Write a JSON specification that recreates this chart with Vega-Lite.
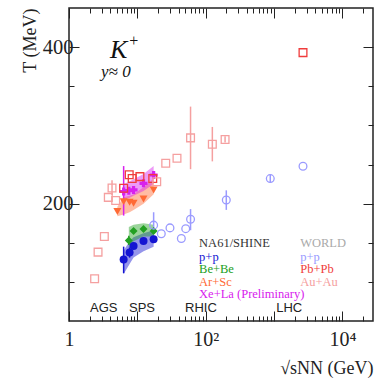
{
  "$schema": "https://vega.github.io/schema/vega-lite/v6.json",
  "width": 304,
  "height": 313,
  "autosize": {"type": "none"},
  "padding": {"left": 69, "top": 8, "right": 1, "bottom": 57},
  "background": "white",
  "config": {"view": {"stroke": "#222222", "strokeWidth": 1.5}},
  "datasets": {
    "points": [
      {"series": "NA61 p+p", "x": 6.3, "T": 128.5},
      {"series": "NA61 p+p", "x": 7.7, "T": 137.5},
      {"series": "NA61 p+p", "x": 8.8, "T": 146},
      {"series": "NA61 p+p", "x": 12.3, "T": 152.3},
      {"series": "NA61 p+p", "x": 17.3, "T": 154.5},
      {"series": "Be+Be", "x": 7.5, "T": 153},
      {"series": "Be+Be", "x": 8.8, "T": 165},
      {"series": "Be+Be", "x": 12.3, "T": 167.7},
      {"series": "Be+Be", "x": 17.3, "T": 165},
      {"series": "Ar+Sc", "x": 5.1, "T": 190},
      {"series": "Ar+Sc", "x": 6.3, "T": 202.6},
      {"series": "Ar+Sc", "x": 7.7, "T": 201.7},
      {"series": "Ar+Sc", "x": 8.8, "T": 200.4},
      {"series": "Ar+Sc", "x": 12.3, "T": 206},
      {"series": "Ar+Sc", "x": 17.3, "T": 217.4},
      {"series": "Xe+La", "x": 6.3, "T": 215.5},
      {"series": "Xe+La", "x": 7.5, "T": 216.5},
      {"series": "Xe+La", "x": 8.8, "T": 217.5},
      {"series": "Xe+La", "x": 12.3, "T": 226},
      {"series": "Xe+La", "x": 17.3, "T": 236.6},
      {"series": "World p+p", "x": 17.3, "T": 172.5},
      {"series": "World p+p", "x": 22.4, "T": 161.5},
      {"series": "World p+p", "x": 30, "T": 169},
      {"series": "World p+p", "x": 44, "T": 155.5},
      {"series": "World p+p", "x": 51, "T": 168},
      {"series": "World p+p", "x": 60, "T": 180},
      {"series": "World p+p", "x": 200, "T": 204.7},
      {"series": "World p+p", "x": 880, "T": 232},
      {"series": "World p+p", "x": 2650, "T": 247.7},
      {"series": "Pb+Pb", "x": 6.3, "T": 219.6},
      {"series": "Pb+Pb", "x": 7.6, "T": 237},
      {"series": "Pb+Pb", "x": 8.4, "T": 232},
      {"series": "Pb+Pb", "x": 10.9, "T": 234.5},
      {"series": "Pb+Pb", "x": 16.8, "T": 232},
      {"series": "Pb+Pb", "x": 2650, "T": 393},
      {"series": "Au+Au", "x": 2.37, "T": 104},
      {"series": "Au+Au", "x": 2.66, "T": 138},
      {"series": "Au+Au", "x": 3.29, "T": 158},
      {"series": "Au+Au", "x": 3.76, "T": 208},
      {"series": "Au+Au", "x": 4.26, "T": 220},
      {"series": "Au+Au", "x": 4.82, "T": 204},
      {"series": "Au+Au", "x": 19.2, "T": 228},
      {"series": "Au+Au", "x": 26, "T": 251.5},
      {"series": "Au+Au", "x": 38, "T": 258},
      {"series": "Au+Au", "x": 60, "T": 284},
      {"series": "Au+Au", "x": 125, "T": 276},
      {"series": "Au+Au", "x": 192, "T": 282}
    ],
    "errs": [
      {"series": "NA61 p+p", "x": 6.3, "lo": 111, "hi": 145},
      {"series": "NA61 p+p", "x": 7.7, "lo": 131, "hi": 144},
      {"series": "NA61 p+p", "x": 17.3, "lo": 150, "hi": 159},
      {"series": "Be+Be", "x": 7.5, "lo": 147, "hi": 159},
      {"series": "Xe+La", "x": 6.3, "lo": 184.7, "hi": 248},
      {"series": "World p+p", "x": 17.3, "lo": 166, "hi": 189},
      {"series": "World p+p", "x": 60, "lo": 166, "hi": 193},
      {"series": "World p+p", "x": 200, "lo": 192, "hi": 217},
      {"series": "World p+p", "x": 880, "lo": 227, "hi": 237},
      {"series": "Au+Au", "x": 4.26, "lo": 211, "hi": 230},
      {"series": "Au+Au", "x": 60, "lo": 244, "hi": 324},
      {"series": "Au+Au", "x": 125, "lo": 254, "hi": 298},
      {"series": "Au+Au", "x": 192, "lo": 278, "hi": 286}
    ],
    "bands": [
      {"series": "NA61 p+p", "x": 6.3, "lo": 110, "hi": 140},
      {"series": "NA61 p+p", "x": 7.7, "lo": 123, "hi": 152},
      {"series": "NA61 p+p", "x": 8.8, "lo": 131, "hi": 157},
      {"series": "NA61 p+p", "x": 12.3, "lo": 139, "hi": 162},
      {"series": "NA61 p+p", "x": 17.3, "lo": 145, "hi": 166},
      {"series": "Be+Be", "x": 7.5, "lo": 143, "hi": 170},
      {"series": "Be+Be", "x": 8.8, "lo": 152, "hi": 173},
      {"series": "Be+Be", "x": 12.3, "lo": 158, "hi": 175},
      {"series": "Be+Be", "x": 17.3, "lo": 158, "hi": 173},
      {"series": "Ar+Sc", "x": 5.1, "lo": 184, "hi": 196},
      {"series": "Ar+Sc", "x": 6.3, "lo": 186, "hi": 208},
      {"series": "Ar+Sc", "x": 7.7, "lo": 189, "hi": 210},
      {"series": "Ar+Sc", "x": 8.8, "lo": 192, "hi": 212},
      {"series": "Ar+Sc", "x": 12.3, "lo": 200, "hi": 221},
      {"series": "Ar+Sc", "x": 17.3, "lo": 212, "hi": 232},
      {"series": "Xe+La", "x": 6.3, "lo": 205, "hi": 225},
      {"series": "Xe+La", "x": 7.5, "lo": 207, "hi": 228},
      {"series": "Xe+La", "x": 8.8, "lo": 210, "hi": 231},
      {"series": "Xe+La", "x": 12.3, "lo": 216, "hi": 238},
      {"series": "Xe+La", "x": 17.3, "lo": 225, "hi": 248}
    ],
    "labels": [
      {"series": "hdr NA61", "label": "NA61/SHINE", "x": 80, "y": 149.6},
      {"series": "NA61 p+p", "label": "p+p", "x": 80, "y": 132.4},
      {"series": "Be+Be", "label": "Be+Be", "x": 80, "y": 116},
      {"series": "Ar+Sc", "label": "Ar+Sc", "x": 80, "y": 100},
      {"series": "Xe+La", "label": "Xe+La (Preliminary)", "x": 80, "y": 84},
      {"series": "hdr World", "label": "WORLD", "x": 2410, "y": 149.6},
      {"series": "World p+p", "label": "p+p", "x": 2410, "y": 132.4},
      {"series": "Pb+Pb", "label": "Pb+Pb", "x": 2410, "y": 116},
      {"series": "Au+Au", "label": "Au+Au", "x": 2410, "y": 100}
    ],
    "exps": [
      {"label": "AGS", "x": 2.03, "y": 66.5},
      {"label": "SPS", "x": 7.55, "y": 66.5},
      {"label": "RHIC", "x": 49.9, "y": 66.5},
      {"label": "LHC", "x": 1075, "y": 66.5}
    ],
    "kaon": [{"label": "K", "x": 3.98, "y": 396}],
    "plus": [{"label": "+", "x": 7.6, "y": 408}],
    "rap": [{"label": "y≈ 0", "x": 2.94, "y": 368}]
  },
  "layer": [
    {
      "data": {"name": "bands"},
      "mark": {"type": "area", "opacity": 0.45},
      "encoding": {
        "x": {
          "field": "x", "type": "quantitative",
          "scale": {"type": "log", "domain": [1, 28000], "nice": false},
          "axis": {
            "orient": "bottom",
            "values": [1,2,3,4,5,6,7,8,9,10,20,30,40,50,60,70,80,90,100,200,300,400,500,600,700,800,900,1000,2000,3000,4000,5000,6000,7000,8000,9000,10000,20000],
            "labelExpr": "datum.value == 1 ? '1' : datum.value == 100 ? '10²' : datum.value == 10000 ? '10⁴' : ''",
            "domain": false,
            "grid": false,
            "tickColor": "#222222",
            "tickWidth": 1,
            "tickSize": {"condition": {"test": "datum.value == 1 || datum.value == 10 || datum.value == 100 || datum.value == 1000 || datum.value == 10000", "value": -10}, "value": -5},
            "labelFont": "Liberation Serif",
            "labelFontSize": 20,
            "labelColor": "#222222",
            "labelPadding": 18,
            "labelFlush": false,
            "labelOverlap": false,
            "title": "√sNN (GeV)",
            "titleFont": "Liberation Serif",
            "titleFontSize": 18,
            "titleFontWeight": "normal",
            "titleColor": "#222222",
            "titleAnchor": "end",
            "titlePadding": 5
          }
        },
        "y": {
          "field": "lo", "type": "quantitative",
          "scale": {"domain": [50, 450], "nice": false, "zero": false},
          "axis": {
            "orient": "left",
            "values": [100,150,200,250,300,350,400],
            "labelExpr": "datum.value == 200 || datum.value == 400 ? datum.label : ''",
            "domain": false,
            "grid": false,
            "tickColor": "#222222",
            "tickWidth": 1,
            "tickSize": {"condition": {"test": "datum.value == 200 || datum.value == 400", "value": -10}, "value": -5},
            "labelFont": "Liberation Serif",
            "labelFontSize": 20.5,
            "labelColor": "#222222",
            "labelPadding": 6,
            "title": "T (MeV)",
            "titleFont": "Liberation Serif",
            "titleFontSize": 18,
            "titleFontWeight": "normal",
            "titleColor": "#222222",
            "titleAnchor": "end",
            "titlePadding": 3
          }
        },
        "y2": {"field": "hi"},
        "color": {"field": "series", "type": "nominal", "legend": null,
          "scale": {
            "domain": ["NA61 p+p","Be+Be","Ar+Sc","Xe+La","World p+p","Pb+Pb","Au+Au","hdr NA61","hdr World"],
            "range": ["#1414d2","#22a022","#ff6a35","#d820ee","#9a9aff","#f03c3c","#f5a0a0","#333333","#aaaaaa"]
          }
        },
        "detail": {"field": "series"}
      }
    },
    {
      "data": {"name": "errs"},
      "mark": {"type": "rule", "strokeWidth": 1.5},
      "encoding": {
        "x": {"field": "x", "type": "quantitative", "axis": null},
        "y": {"field": "lo", "type": "quantitative", "axis": null},
        "y2": {"field": "hi"},
        "color": {"field": "series", "type": "nominal", "legend": null}
      }
    },
    {
      "data": {"name": "points"},
      "transform": [{"filter": "indexof(['NA61 p+p','Be+Be','Ar+Sc','Xe+La'], datum.series) >= 0"}],
      "mark": {"type": "point", "filled": true, "opacity": 1, "size": 64},
      "encoding": {
        "x": {"field": "x", "type": "quantitative", "axis": null},
        "y": {"field": "T", "type": "quantitative", "axis": null},
        "color": {"field": "series", "type": "nominal", "legend": null},
        "shape": {"field": "series", "type": "nominal", "legend": null,
          "scale": {
            "domain": ["NA61 p+p","Be+Be","Ar+Sc","Xe+La","World p+p","Pb+Pb","Au+Au"],
            "range": ["circle","diamond","triangle-down","cross","circle","square","square"]
          }
        }
      }
    },
    {
      "data": {"name": "points"},
      "transform": [{"filter": "indexof(['World p+p','Pb+Pb','Au+Au'], datum.series) >= 0"}],
      "mark": {"type": "point", "filled": false, "opacity": 1, "size": 60, "strokeWidth": 1.3},
      "encoding": {
        "x": {"field": "x", "type": "quantitative", "axis": null},
        "y": {"field": "T", "type": "quantitative", "axis": null},
        "color": {"field": "series", "type": "nominal", "legend": null},
        "shape": {"field": "series", "type": "nominal", "legend": null}
      }
    },
    {
      "data": {"name": "labels"},
      "mark": {"type": "text", "align": "left", "baseline": "middle", "font": "Liberation Serif", "fontSize": 12.5},
      "encoding": {
        "x": {"field": "x", "type": "quantitative", "axis": null},
        "y": {"field": "y", "type": "quantitative", "axis": null},
        "text": {"field": "label"},
        "color": {"field": "series", "type": "nominal", "legend": null}
      }
    },
    {
      "data": {"name": "kaon"},
      "mark": {"type": "text", "align": "left", "baseline": "middle", "font": "Liberation Serif", "fontSize": 26, "fontStyle": "italic", "color": "#111111"},
      "encoding": {
        "x": {"field": "x", "type": "quantitative", "axis": null},
        "y": {"field": "y", "type": "quantitative", "axis": null},
        "text": {"field": "label"}
      }
    },
    {
      "data": {"name": "plus"},
      "mark": {"type": "text", "align": "left", "baseline": "middle", "font": "Liberation Serif", "fontSize": 16, "color": "#111111"},
      "encoding": {
        "x": {"field": "x", "type": "quantitative", "axis": null},
        "y": {"field": "y", "type": "quantitative", "axis": null},
        "text": {"field": "label"}
      }
    },
    {
      "data": {"name": "rap"},
      "mark": {"type": "text", "align": "left", "baseline": "middle", "font": "Liberation Serif", "fontSize": 17, "fontStyle": "italic", "color": "#111111"},
      "encoding": {
        "x": {"field": "x", "type": "quantitative", "axis": null},
        "y": {"field": "y", "type": "quantitative", "axis": null},
        "text": {"field": "label"}
      }
    },
    {
      "data": {"name": "exps"},
      "mark": {"type": "text", "align": "left", "baseline": "middle", "font": "Liberation Sans", "fontSize": 13, "color": "#222222"},
      "encoding": {
        "x": {"field": "x", "type": "quantitative",
          "axis": {
            "orient": "top",
            "values": [1,2,3,4,5,6,7,8,9,10,20,30,40,50,60,70,80,90,100,200,300,400,500,600,700,800,900,1000,2000,3000,4000,5000,6000,7000,8000,9000,10000,20000],
            "labels": false, "domain": false, "grid": false, "title": null,
            "tickColor": "#222222", "tickWidth": 1,
            "tickSize": {"condition": {"test": "datum.value == 1 || datum.value == 10 || datum.value == 100 || datum.value == 1000 || datum.value == 10000", "value": -10}, "value": -5}
          }
        },
        "y": {"field": "y", "type": "quantitative",
          "axis": {
            "orient": "right",
            "values": [100,150,200,250,300,350,400],
            "labels": false, "domain": false, "grid": false, "title": null,
            "tickColor": "#222222", "tickWidth": 1,
            "tickSize": {"condition": {"test": "datum.value == 200 || datum.value == 400", "value": -10}, "value": -5}
          }
        },
        "text": {"field": "label"}
      }
    }
  ],
  "resolve": {"axis": {"x": "independent", "y": "independent"}}
}
